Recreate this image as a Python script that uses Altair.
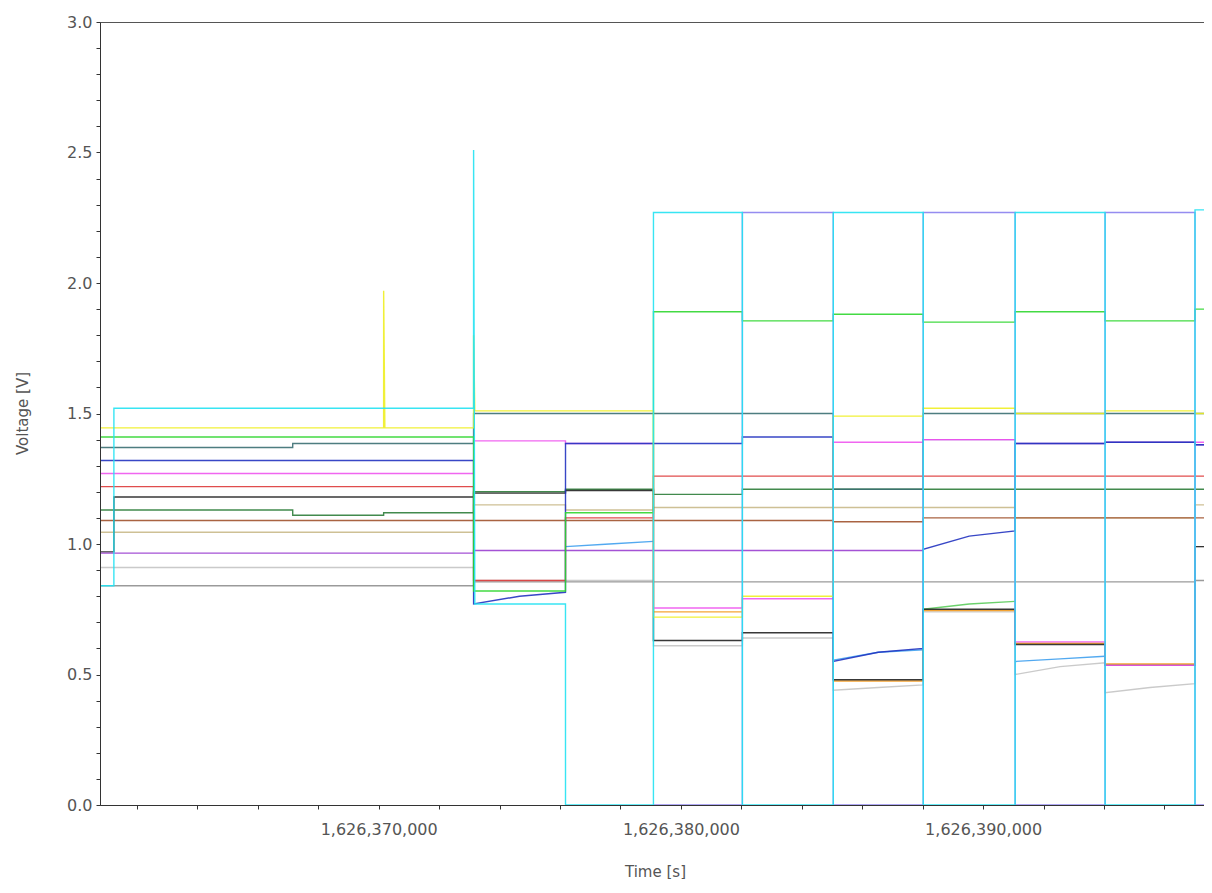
import altair as alt
import pandas as pd

# segment edges (time in s) : start, switching times, end
EDGES = [1626360780, 1626361240, 1626364214, 1626367157, 1626370165,
         1626373141, 1626376182, 1626379092, 1626382034, 1626385042,
         1626388018, 1626391059, 1626394035, 1626397010, 1626397500]
X_DOMAIN = [1626360780, 1626397307]

# values per segment (14 segments); tuple = drifting value inside segment
ltgray = [0.91, 0.91, 0.91, 0.91, 0.91, 0.86, 0.86, 0.61, 0.64, (0.44, 0.45, 0.46), 0.74, (0.50, 0.53, 0.545), (0.43, 0.45, 0.465), 0.99]
gray = [0.84, 0.84, 0.84, 0.84, 0.84, 0.855, 0.855, 0.855, 0.855, 0.855, 0.855, 0.855, 0.855, 0.86]
tan = [1.045, 1.045, 1.045, 1.045, 1.045, 1.15, 1.13, 1.14, 1.14, 1.14, 1.14, 1.10, 1.10, 1.15]
brown = [1.09, 1.09, 1.09, 1.09, 1.09, 1.09, 1.09, 1.09, 1.09, 1.085, 1.10, 1.10, 1.10, 1.10]
ltblue = [None, None, None, None, None, None, (0.99, 1.00, 1.01), None, None, (0.555, 0.585, 0.595), None, (0.55, 0.56, 0.57), None, None]
orange = [None, None, None, None, None, None, None, 0.74, None, 0.475, 0.745, 0.62, 0.54, None]
ltgreen = [None, None, None, None, None, None, None, None, None, None, (0.75, 0.77, 0.78), None, None, None]
dkgreen = [1.13, 1.13, 1.13, 1.11, 1.12, 1.20, 1.21, 1.19, 1.21, 1.21, 1.21, 1.21, 1.21, 1.21]
black = [0.97, 1.18, 1.18, 1.18, 1.18, 1.195, 1.205, 0.63, 0.66, 0.48, 0.75, 0.615, 0.535, 0.99]
red = [1.22, 1.22, 1.22, 1.22, 1.22, 0.86, 1.10, 1.26, 1.26, 1.26, 1.26, 1.26, 1.26, 1.26]
purple = [0.965, 0.965, 0.965, 0.965, 0.965, 0.975, 0.975, 0.975, 0.975, 0.975, 1.40, 1.385, 1.39, 1.38]
magenta = [1.27, 1.27, 1.27, 1.27, 1.27, 1.395, 1.385, 0.755, 0.79, 1.39, 1.40, 0.625, 0.535, 1.39]
blue = [1.32, 1.32, 1.32, 1.32, 1.32, (0.77, 0.80, 0.815), 1.385, 1.385, 1.41, (0.55, 0.585, 0.60), (0.98, 1.03, 1.05), 1.385, 1.39, 1.38]
teal = [1.37, 1.37, 1.37, 1.385, 1.385, 1.50, 1.50, 1.50, 1.50, 1.21, 1.50, 1.50, 1.50, 1.50]
green = [1.41, 1.41, 1.41, 1.41, 1.41, 0.82, 1.12, 1.89, 1.855, 1.88, 1.85, 1.89, 1.855, 1.90]
yellow = [1.445, 1.445, 1.445, 1.445, 1.445, 1.51, 1.51, 0.72, 0.80, 1.49, 1.52, 1.50, 1.51, 1.50]
slate = [None, None, None, None, None, None, None, 0.0, 2.27, 0.0, 2.27, 0.0, 2.27, 0.0]
cyan = [0.84, 1.52, 1.52, 1.52, 1.52, 0.77, 0.0, 2.27, 0.0, 2.27, 0.0, 2.27, 0.0, 2.28]

# short transients at a segment start: {segment index: peak value}
yellow_spikes = {4: 1.97, 5: 1.80}
cyan_spikes = {5: 2.51}

SERIES = [
    ("ltgray", ltgray, "#c4c4c4", {}),
    ("gray", gray, "#8f8f8f", {}),
    ("tan", tan, "#c9b98a", {}),
    ("brown", brown, "#a0522d", {}),
    ("ltblue", ltblue, "#3fa0ee", {}),
    ("orange", orange, "#f39a1e", {}),
    ("ltgreen", ltgreen, "#5ccc5c", {}),
    ("dkgreen", dkgreen, "#2e7d3a", {}),
    ("black", black, "#222222", {}),
    ("red", red, "#dd3a3a", {}),
    ("purple", purple, "#9a3fd0", {}),
    ("magenta", magenta, "#ee55ee", {}),
    ("blue", blue, "#2233c0", {}),
    ("teal", teal, "#3b6f72", {}),
    ("green", green, "#2fd62f", {}),
    ("yellow", yellow, "#eeee22", yellow_spikes),
    ("slate", slate, "#8a80ee", {}),
    ("cyan", cyan, "#22e2f2", cyan_spikes),
]

rows = []
for si, (name, vals, color, spikes) in enumerate(SERIES):
    part = 0
    prev = False
    idx = 0
    for i, v in enumerate(vals):
        if v is None:
            if prev:
                part += 1
            prev = False
            continue
        t0, t1 = EDGES[i], EDGES[i + 1]
        seq = list(v) if isinstance(v, tuple) else [v]
        key = f"{si:02d}_{name}_{part}"
        start = t0
        if i in spikes:
            rows.append(dict(t=t0, v=spikes[i], series=name, key=key, i=idx)); idx += 1
            start = t0 + 40
        if len(seq) == 1:
            pts = [(start, seq[0]), (t1 - 1, seq[0])]
        else:
            n = len(seq) - 1
            pts = [(start + (t1 - 1 - start) * k / n, val) for k, val in enumerate(seq)]
        for t, val in pts:
            rows.append(dict(t=t, v=val, series=name, key=key, i=idx)); idx += 1
        prev = True

df = pd.DataFrame(rows)
names = [s[0] for s in SERIES]
colors = [s[2] for s in SERIES]

x_ticks = list(range(1626362000, 1626397400, 2000))
y_ticks = [round(k * 0.1, 1) for k in range(31)]

FONT = "DejaVu Sans"

chart = alt.Chart(df).mark_line(strokeWidth=1.4, opacity=0.9, interpolate="linear", clip=True).encode(
    x=alt.X("t:Q",
            scale=alt.Scale(domain=X_DOMAIN, nice=False, zero=False),
            axis=alt.Axis(values=x_ticks,
                          labelExpr="datum.value % 10000 == 0 ? format(datum.value, ',') : ''",
                          title="Time [s]", grid=False, tickSize=4, tickColor="#333",
                          domainColor="#333", labelColor="#555", labelFontSize=16, labelFont=FONT,
                          labelPadding=12, titleFont=FONT, titleFontSize=15, titleFontWeight="normal",
                          titleColor="#555", titleX=555, titleY=66, titleBaseline="middle",
                          labelFlush=False, labelOverlap=False, zindex=1)),
    y=alt.Y("v:Q",
            scale=alt.Scale(domain=[0, 3], nice=False, zero=False),
            axis=alt.Axis(values=y_ticks,
                          labelExpr="round(datum.value * 10) % 5 == 0 ? format(datum.value, '.1f') : ''",
                          title="Voltage [V]", grid=False, tickSize=4, tickColor="#333",
                          domainColor="#333", labelColor="#555", labelFontSize=16, labelFont=FONT,
                          labelPadding=4, titleFont=FONT, titleFontSize=15, titleFontWeight="normal",
                          titleColor="#555", titleX=-78, titleY=391, titleBaseline="middle",
                          labelOverlap=False, zindex=1)),
    color=alt.Color("series:N", scale=alt.Scale(domain=names, range=colors), legend=None),
    detail="key:N",
    order="i:Q",
).properties(
    width=1104, height=783,
    autosize=alt.AutoSizeParams(type="none"),
    padding={"left": 92, "top": 14, "right": 0, "bottom": 74},
).configure_view(stroke="#555", strokeWidth=1)

chart.save("out.html", embed_options={"renderer": "svg", "actions": False})
